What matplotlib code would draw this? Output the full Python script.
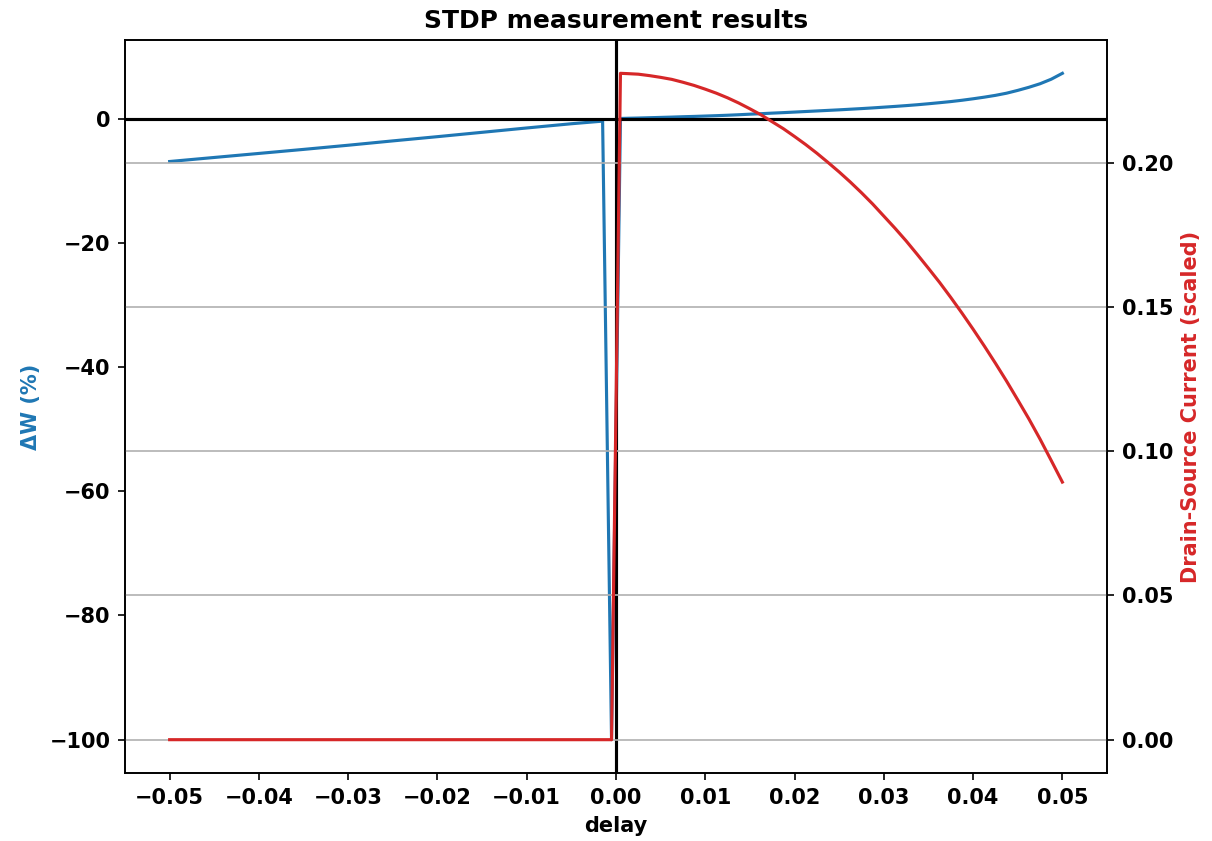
import matplotlib
matplotlib.use("Agg")
import matplotlib.pyplot as plt
import numpy as np

# ---- data ----
delay_neg = [-0.05, -0.045, -0.04, -0.035, -0.03, -0.025, -0.02, -0.015,
             -0.01, -0.005, -0.0015, -0.0005]
dw_neg = [-6.90, -6.25, -5.60, -4.95, -4.28, -3.58, -2.90, -2.20,
          -1.50, -0.82, -0.40, -100.0]
current_neg = [0.0, 0.0, 0.0, 0.0, 0.0, 0.0, 0.0, 0.0, 0.0, 0.0, 0.0, 0.0]

delay_pos = [0.0005, 0.00125, 0.0025, 0.00375, 0.005, 0.00625, 0.0075, 0.00875,
             0.01, 0.01125, 0.0125, 0.01375, 0.015, 0.01625, 0.0175, 0.01875,
             0.02, 0.02125, 0.0225, 0.02375, 0.025, 0.02625, 0.0275, 0.02875,
             0.03, 0.03125, 0.0325, 0.03375, 0.035, 0.03625, 0.0375, 0.03875,
             0.04, 0.04125, 0.0425, 0.04375, 0.045, 0.04625, 0.0475, 0.04875,
             0.05]
dw_pos = [0.03, 0.06, 0.10, 0.15, 0.20, 0.25, 0.31, 0.36,
          0.42, 0.48, 0.55, 0.63, 0.72, 0.80, 0.89, 0.97,
          1.06, 1.15, 1.24, 1.33, 1.42, 1.52, 1.62, 1.73,
          1.85, 1.97, 2.10, 2.24, 2.40, 2.57, 2.75, 2.96,
          3.20, 3.46, 3.75, 4.10, 4.55, 5.05, 5.62, 6.35,
          7.30]
current_pos = [0.2310, 0.2309, 0.2307, 0.2302, 0.2296, 0.2289, 0.2279, 0.2268,
               0.2255, 0.2241, 0.2225, 0.2207, 0.2187, 0.2166, 0.2142, 0.2118,
               0.2091, 0.2063, 0.2033, 0.2001, 0.1968, 0.1933, 0.1896, 0.1857,
               0.1815, 0.1773, 0.1729, 0.1682, 0.1634, 0.1585, 0.1533, 0.1479,
               0.1423, 0.1365, 0.1305, 0.1243, 0.1178, 0.1112, 0.1042, 0.0968,
               0.0893]

x_ticks = [-0.05, -0.04, -0.03, -0.02, -0.01, 0.0, 0.01, 0.02, 0.03, 0.04, 0.05]
left_ticks = [-100, -80, -60, -40, -20, 0]
right_ticks = [0.0, 0.05, 0.10, 0.15, 0.20]

delay = np.array(delay_neg + delay_pos)
dw = np.array(dw_neg + dw_pos)
current = np.array(current_neg + current_pos)

plt.rcParams['font.family'] = ['DejaVu Sans']
plt.rcParams['font.weight'] = 'bold'
plt.rcParams['axes.labelweight'] = 'bold'
plt.rcParams['axes.titleweight'] = 'bold'

fig = plt.figure(figsize=(1212 / 150, 841 / 150), dpi=150)
ax1 = fig.add_axes([125 / 1212, 1 - 773 / 841, (1107 - 125) / 1212, (773 - 40) / 841])

ax1.plot(delay, dw, color='tab:blue')
ax1.axhline(0, color='black')
ax1.axvline(0, color='black')
ax1.set_xlabel('delay')
ax1.set_ylabel('ΔW (%)', color='tab:blue')
ax1.set_xticks(x_ticks)
ax1.set_yticks(left_ticks)
ax1.set_title('STDP measurement results')

ax2 = ax1.twinx()
ax2.plot(delay, current, color='tab:red')
ax2.set_ylabel('Drain-Source Current (scaled)', color='tab:red')
ax2.set_yticks(right_ticks)
ax2.grid(True, axis='y')

fig.savefig('out.png', dpi=150)
